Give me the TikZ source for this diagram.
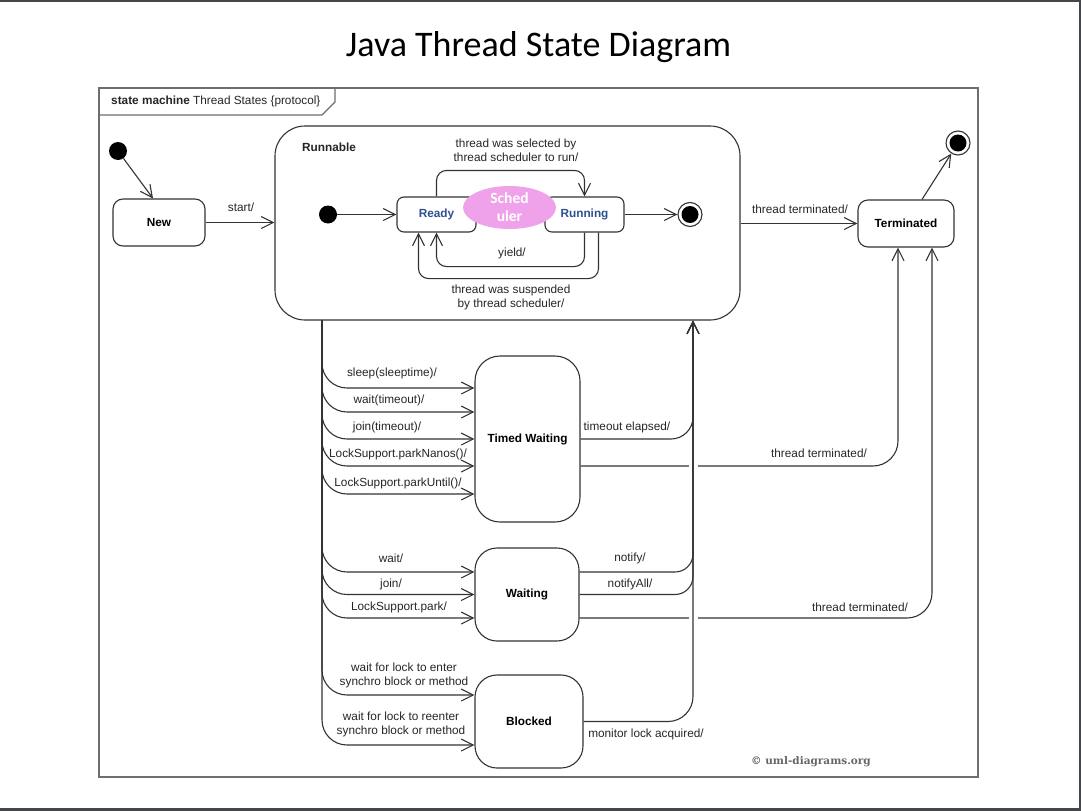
\documentclass[tikz,border=0pt]{standalone}
\usepackage{fontspec}
\setmainfont{Liberation Sans}
\newfontfamily\carlito{Carlito}
\newfontfamily\dvserif{DejaVu Serif}
\usetikzlibrary{arrows.meta,shapes.geometric}
\definecolor{ln}{HTML}{333333}
\definecolor{framec}{HTML}{6E6E6E}
\definecolor{readyblue}{HTML}{2F5090}
\definecolor{schedpink}{HTML}{EFA2E9}
\definecolor{barc}{HTML}{43474B}
\tikzset{
  lbl/.style={font=\fontsize{11.8}{14}\selectfont, text=black!85, inner sep=0pt, align=center},
  st/.style={draw=ln, line width=1.1pt, rounded corners=#1, fill=white, font=\fontsize{11.8}{14}\bfseries\selectfont, inner sep=0pt},
  st/.default=10pt,
  arr/.style={draw=ln, line width=1.1pt, -{Straight Barb[length=12pt,width=12pt,line width=1.1pt]}},
  ln/.style={draw=ln, line width=1.1pt},
  initdot/.style={circle, fill=black, minimum size=18pt, inner sep=0pt},
  finalc/.style={circle, draw=ln, line width=1.1pt, fill=white, minimum size=24pt, inner sep=0pt},
  finaldot/.style={circle, fill=black, minimum size=17pt, inner sep=0pt}
}
\begin{document}
\begin{tikzpicture}[x=1pt,y=-1pt]
\useasboundingbox (0,0) rectangle (1081,811);
\fill[white] (0,0) rectangle (1081,811);
% screen bars
\fill[barc] (0,0) rectangle (1081,1.5);
\fill[barc] (1078.5,0) rectangle (1081,811);
\fill[barc] (0,807.5) rectangle (1081,811);

% title
\node[font=\carlito\fontsize{36}{42}\selectfont, inner sep=0pt] (title) at (538.5,47) {Java Thread State Diagram};

% frame
\draw[framec, line width=1.4pt] (99,88) rectangle (978,777);
\draw[framec, line width=1.2pt] (99,115) -- (322,115) -- (335,102) -- (335,88);
\node[lbl, anchor=west] (framelbl) at (111,101) {\bfseries state machine\mdseries{} Thread States \{protocol\}};

% states
\node[st=10pt, minimum width=92pt, minimum height=47pt] (new) at (159,222.5) {New};
\node[st=30pt, minimum width=465pt, minimum height=194pt] (runnable) at (507.5,223) {};
\node[lbl, font=\fontsize{11.8}{14}\bfseries\selectfont] (runlbl) at (329,147) {Runnable};
\node[st=7pt, minimum width=79pt, minimum height=35pt, text=readyblue] (ready) at (436.5,214.5) {Ready};
\node[st=7pt, minimum width=79pt, minimum height=35pt, text=readyblue] (running) at (584.5,214.5) {Running};
\node[st=10pt, minimum width=96pt, minimum height=47pt] (term) at (906,223.5) {Terminated};
\node[st=25pt, minimum width=105pt, minimum height=166pt] (tw) at (527.5,439) {Timed Waiting};
\node[st=22pt, minimum width=104pt, minimum height=93pt] (waiting) at (527,594.5) {Waiting};
\node[st=22pt, minimum width=108pt, minimum height=93pt] (blocked) at (529,721.5) {Blocked};

\node[initdot] (init1) at (118,151) {};
\node[initdot] (init2) at (328,214.5) {};
\node[finalc] (final1) at (690,214.5) {};
\node[finaldot] at (final1) {};
\node[finalc] (final2) at (958,143) {};
\node[finaldot] at (final2) {};

\coordinate (tx) at (322,0);
\coordinate (rx) at (693,0);

% top-level transitions
\draw[arr] (init1) -- ([xshift=-6pt]new.north);
\draw[arr] (new.east) -- (new.east -| runnable.west);
\node[lbl] (startl) at (241,207) {start/};
\draw[arr] (runnable.east |- term.west) -- (term.west);
\node[lbl] (tt1) at (800,209) {thread terminated/};
\draw[arr] ([xshift=16pt]term.north) -- (final2);

% inside runnable
\draw[arr] (init2) -- (ready.west);
\draw[arr] (running.east) -- (final1);
\draw[arr, rounded corners=10pt] (ready.north) -- ++(0,-26) -| (running.north);
\node[lbl] (sel) at (516,150) {thread was selected by\\thread scheduler to run/};
\draw[arr, rounded corners=10pt] (running.south) -- ++(0,34) -| (ready.south);
\node[lbl] (yl) at (512,253) {yield/};
\draw[arr, rounded corners=10pt] ([xshift=14pt]running.south) -- ++(0,46) -| ([xshift=-18pt]ready.south);
\node[lbl] (susp) at (511,297) {thread was suspended\\by thread scheduler/};
\node[ellipse, fill=schedpink, minimum width=93pt, minimum height=43pt, inner sep=0pt, text=white, align=center, font=\carlito\fontsize{15.5}{18}\bfseries\selectfont] (sched) at (509.5,207.5) {Sched\\uler};

% trunk to substates
\draw[arr, rounded corners=25pt] (runnable.south -| tx) |- ([yshift=51pt]tw.west);
\draw[arr, rounded corners=25pt] (runnable.south -| tx) |- ([yshift=27pt]tw.west);
\draw[arr, rounded corners=25pt] (runnable.south -| tx) |- (tw.west);
\draw[arr, rounded corners=25pt] (runnable.south -| tx) |- ([yshift=-27pt]tw.west);
\draw[arr, rounded corners=25pt] (runnable.south -| tx) |- ([yshift=-55pt]tw.west);
\draw[arr, rounded corners=25pt] (runnable.south -| tx) |- ([yshift=22.5pt]waiting.west);
\draw[arr, rounded corners=25pt] (runnable.south -| tx) |- (waiting.west);
\draw[arr, rounded corners=25pt] (runnable.south -| tx) |- ([yshift=-23.5pt]waiting.west);
\draw[arr, rounded corners=25pt] (runnable.south -| tx) |- ([yshift=26.5pt]blocked.west);
\draw[arr, rounded corners=25pt] (runnable.south -| tx) |- ([yshift=-23.5pt]blocked.west);

\node[lbl] (l1) at (392,373) {sleep(sleeptime)/};
\node[lbl] (l2) at (389,400) {wait(timeout)/};
\node[lbl] (l3) at (387,427) {join(timeout)/};
\node[lbl] (l4) at (398,454) {LockSupport.parkNanos()/};
\node[lbl] (l5) at (398,483) {LockSupport.parkUntil()/};
\node[lbl] (l6) at (391,558) {wait/};
\node[lbl] (l7) at (391,584) {join/};
\node[lbl] (l8) at (399,607) {LockSupport.park/};
\node[lbl] (l9) at (404,675) {wait for lock to enter\\synchro block or method};
\node[lbl] (l10) at (401,724) {wait for lock to reenter\\synchro block or method};

% to terminated
\draw[arr, rounded corners=25pt] ([yshift=-27pt]tw.east) -| ([xshift=-8pt]term.south);
\draw[arr, rounded corners=25pt] ([yshift=-23.5pt]waiting.east) -| ([xshift=26pt]term.south);
\node[lbl] (tt2) at (819,453) {thread terminated/};
\node[lbl] (tt3) at (860,607) {thread terminated/};
% line hops
\draw[white, line width=9pt] (693,460) -- (693,472);
\draw[white, line width=9pt] (693,612) -- (693,624);

% back to runnable
\draw[arr, rounded corners=22pt] (tw.east) -| (runnable.south -| rx);
\draw[arr, rounded corners=18pt] ([yshift=22.5pt]waiting.east) -| (runnable.south -| rx);
\draw[arr, rounded corners=18pt] (waiting.east) -| (runnable.south -| rx);
\draw[arr, rounded corners=25pt] (blocked.east) -| (runnable.south -| rx);
\node[lbl] (te) at (627,427) {timeout elapsed/};
\node[lbl] (nf) at (630,558) {notify/};
\node[lbl] (nfa) at (630,584) {notifyAll/};
\node[lbl] (mla) at (646,734) {monitor lock acquired/};

% copyright
\node[font=\dvserif\fontsize{10.5}{12}\bfseries\selectfont, text=black!60, inner sep=0pt] (copy) at (811,762) {© uml-diagrams.org};
\end{tikzpicture}
\end{document}
